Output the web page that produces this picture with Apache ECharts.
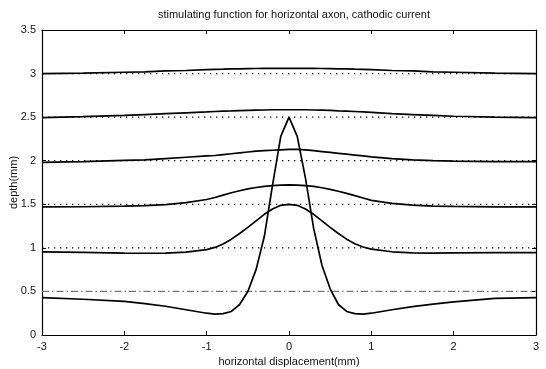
<!DOCTYPE html>
<html><head><meta charset="utf-8">
<script src="https://cdn.jsdelivr.net/npm/echarts@6/dist/echarts.min.js"></script>
<style>html,body{margin:0;padding:0;background:#fff}#c{width:546px;height:369px}</style>
</head><body><div id="c"></div>
<script>
const xs = [-3,-2.5,-2,-1.75,-1.5,-1.25,-1,-0.9,-0.8,-0.7,-0.6,-0.5,-0.4,-0.3,-0.2,-0.1,0,0.1,0.2,0.3,0.4,0.5,0.6,0.7,0.8,0.9,1,1.25,1.5,1.75,2,2.5,3];
const depth30 = [3.00,3.005,3.015,3.02,3.03,3.035,3.045,3.048,3.05,3.053,3.055,3.057,3.058,3.06,3.06,3.06,3.06,3.06,3.06,3.06,3.058,3.057,3.055,3.053,3.05,3.048,3.045,3.035,3.03,3.02,3.015,3.005,3.00];
const depth25 = [2.495,2.505,2.52,2.53,2.54,2.55,2.56,2.565,2.57,2.572,2.575,2.578,2.58,2.582,2.585,2.585,2.585,2.585,2.585,2.582,2.58,2.577,2.573,2.57,2.565,2.56,2.555,2.54,2.53,2.52,2.51,2.5,2.495];
const depth20 = [1.98,1.99,2.005,2.01,2.025,2.04,2.055,2.06,2.07,2.08,2.09,2.10,2.11,2.115,2.12,2.125,2.13,2.13,2.125,2.115,2.105,2.095,2.085,2.075,2.065,2.055,2.045,2.025,2.01,2.0,1.995,1.99,1.99];
const depth15 = [1.47,1.472,1.478,1.485,1.497,1.52,1.555,1.578,1.605,1.632,1.655,1.676,1.693,1.706,1.715,1.72,1.722,1.72,1.715,1.705,1.69,1.672,1.65,1.626,1.6,1.572,1.545,1.51,1.49,1.48,1.475,1.47,1.47];
const depth10 = [0.955,0.948,0.94,0.938,0.94,0.952,0.98,1.005,1.045,1.1,1.165,1.235,1.31,1.385,1.445,1.488,1.50,1.488,1.445,1.385,1.31,1.235,1.165,1.1,1.048,1.01,0.985,0.955,0.942,0.94,0.942,0.945,0.945];
const depth05 = [0.43,0.41,0.385,0.36,0.33,0.29,0.25,0.24,0.245,0.27,0.35,0.50,0.75,1.13,1.72,2.28,2.50,2.28,1.80,1.22,0.80,0.53,0.35,0.27,0.245,0.24,0.25,0.29,0.325,0.355,0.38,0.42,0.43];
const curves = [depth30, depth25, depth20, depth15, depth10, depth05];
const dottedLevels = [3, 2.5, 2, 1.5, 1];
const dashDotLevel = 0.5;
const xRange = [-3, 3];
const titleText = 'stimulating function for horizontal axon, cathodic current';
const xName = 'horizontal displacement(mm)';
const yName = 'depth(mm)';

const font = 'Liberation Sans, Arial, sans-serif';
const series = [];
dottedLevels.forEach(v => series.push({
  type:'line', data:[[xRange[0],v],[xRange[1],v]], symbol:'none', silent:true,
  lineStyle:{color:'#000', width:1.3, type:[1.3,4.7]}
}));
series.push({
  type:'line', data:[[xRange[0],dashDotLevel],[xRange[1],dashDotLevel]], symbol:'none', silent:true,
  lineStyle:{color:'#777', width:1.2, type:[7,3,1.5,3]}
});
curves.forEach(c => series.push({
  type:'line', data: xs.map((x,i)=>[x,c[i]]), symbol:'none', smooth:false,
  lineStyle:{color:'#000', width:1.7}
}));

const axisCommon = () => ({
  axisLine:{show:true, onZero:false, lineStyle:{color:'#000', width:1.2}},
  axisTick:{show:true, inside:true, length:4, lineStyle:{color:'#000'}},
  splitLine:{show:false}
});
const chart = echarts.init(document.getElementById('c'), null, {renderer:'canvas'});
chart.setOption({
  animation:false,
  backgroundColor:'#fff',
  title:{text:titleText, left:289, top:4, textAlign:'center',
    textStyle:{fontFamily:font, fontSize:11, fontWeight:'normal', color:'#111'}},
  grid:{left:42, right:10, top:30, bottom:34, containLabel:false, outerBoundsMode:'none'},
  xAxis:[
    Object.assign({type:'value', min:-3, max:3, interval:1, position:'bottom',
      name:xName, nameLocation:'middle', nameGap:21, nameMoveOverlap:false,
      nameTextStyle:{fontFamily:font, fontSize:11, color:'#111'},
      axisLabel:{fontFamily:font, fontSize:11, color:'#111', margin:6}}, axisCommon()),
    Object.assign({type:'value', min:-3, max:3, interval:1, position:'top', axisLabel:{show:false}}, axisCommon())
  ],
  yAxis:[
    Object.assign({type:'value', min:0, max:3.5, interval:0.5, position:'left',
      name:yName, nameLocation:'middle', nameGap:23, nameMoveOverlap:false,
      nameTextStyle:{fontFamily:font, fontSize:11, color:'#111'},
      axisLabel:{fontFamily:font, fontSize:11, color:'#111', margin:6}}, axisCommon()),
    Object.assign({type:'value', min:0, max:3.5, interval:0.5, position:'right', axisLabel:{show:false}}, axisCommon())
  ],
  series: series
});
</script></body></html>
